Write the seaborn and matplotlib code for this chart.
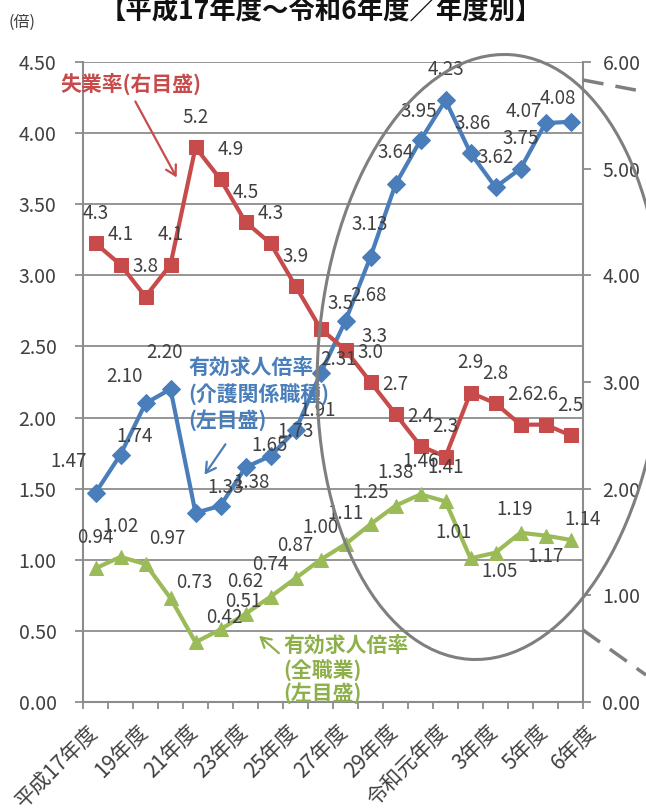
import matplotlib
matplotlib.use("Agg")
import matplotlib.pyplot as plt
import matplotlib.transforms as mtransforms
from matplotlib.patches import Ellipse, FancyArrowPatch
from matplotlib.lines import Line2D
import numpy as np
import pandas as pd
import seaborn as sns

# ---------------- data ----------------
years = ['平成17年度', '18年度', '19年度', '20年度', '21年度', '22年度', '23年度',
         '24年度', '25年度', '26年度', '27年度', '28年度', '29年度', '30年度',
         '令和元年度', '2年度', '3年度', '4年度', '5年度', '6年度']
care_ratio = [1.47, 1.74, 2.10, 2.20, 1.33, 1.38, 1.65, 1.73, 1.91, 2.31,
              2.68, 3.13, 3.64, 3.95, 4.23, 3.86, 3.62, 3.75, 4.07, 4.08]
all_ratio = [0.94, 1.02, 0.97, 0.73, 0.42, 0.51, 0.62, 0.74, 0.87, 1.00,
             1.11, 1.25, 1.38, 1.46, 1.41, 1.01, 1.05, 1.19, 1.17, 1.14]
unemployment = [4.3, 4.1, 3.8, 4.1, 5.2, 4.9, 4.5, 4.3, 3.9, 3.5,
                3.3, 3.0, 2.7, 2.4, 2.3, 2.9, 2.8, 2.6, 2.6, 2.5]
shown_labels = ['平成17年度', '19年度', '21年度', '23年度', '25年度', '27年度',
                '29年度', '令和元年度', '3年度', '5年度', '6年度']
left_ticks = [0.0, 0.5, 1.0, 1.5, 2.0, 2.5, 3.0, 3.5, 4.0, 4.5]
right_ticks = [0.0, 1.0, 2.0, 3.0, 4.0, 5.0, 6.0]

# label offsets in pixels (dx right, dy down) – layout only
care_off = [(-27, -31), (14, -18), (-21, -27), (-6, -37), (30, -25), (31, -23),
            (24, -22), (25, -24), (22, -20), (18, -14), (23, -25), (-1, -32),
            (0, -32), (-2, -29), (0, -31), (2, -30), (0, -30), (0, -30),
            (-22, -12), (-13, -23)]
all_off = [(0, -31), (0, -30), (22, -26), (24, -16), (29, -25), (23, -28),
           (0, -32), (0, -32), (0, -33), (0, -32), (0, -31), (0, -32),
           (0, -33), (0, -33), (0, -34), (-17, -26), (4, 19), (-6, -23),
           (0, 21), (12, -20)]
unemp_off = [(0, -30)] * 5 + [(10, -30), (0, -29), (0, -30), (0, -30),
                              (20, -25), (29, -14)] + [(0, -30)] * 9

df = pd.DataFrame({'idx': np.arange(len(years)), 'year': years,
                   'care': care_ratio, 'all': all_ratio, 'unemp': unemployment})

BLUE = '#4A7EBB'
RED = '#C84B4B'
GREEN = '#9BBB59'
GREEN_TXT = '#8DB04A'
GRAY = '#8C8C8C'
TXT = '#404040'

sns.set_theme(style='white')
plt.rcParams['font.family'] = ['Noto Sans CJK JP', 'DejaVu Sans']

W, H = 646, 808
fig = plt.figure(figsize=(W / 100, H / 100), dpi=100)
L, R, T, B = 83, 583, 62, 702
ax = fig.add_axes([L / W, 1 - B / H, (R - L) / W, (B - T) / H])
ax2 = ax.twinx()

sns.lineplot(data=df, x='idx', y='care', ax=ax, color=BLUE, marker='D',
             markersize=9, linewidth=3, markeredgecolor=BLUE, zorder=3)
sns.lineplot(data=df, x='idx', y='all', ax=ax, color=GREEN, marker='^',
             markersize=10, linewidth=3, markeredgecolor=GREEN, zorder=3)
sns.lineplot(data=df, x='idx', y='unemp', ax=ax2, color=RED, marker='s',
             markersize=10, linewidth=3, markeredgecolor=RED, zorder=3)

for a in (ax, ax2):
    a.set_xlabel('')
    a.set_ylabel('')
    a.set_xlim(-0.5, len(years) - 0.5)
    a.set_facecolor('none')
ax.set_ylim(0, 4.5)
ax2.set_ylim(0, 6)

ax.set_yticks(left_ticks)
ax.set_yticklabels([f'{v:.2f}' for v in left_ticks])
ax2.set_yticks(right_ticks)
ax2.set_yticklabels([f'{v:.2f}' for v in right_ticks])
ax.yaxis.grid(True, color=GRAY, linewidth=1.3)
ax.xaxis.grid(False)
ax2.grid(False)

pos = [years.index(s) for s in shown_labels]
ax.set_xticks(pos)
ax.set_xticklabels(shown_labels, rotation=45, ha='right', va='center',
                   rotation_mode='anchor', fontsize=15, color=TXT)
ax.set_xticks(np.arange(-0.5, len(years)), minor=True)
ax.tick_params(axis='x', which='major', length=0, pad=19)
ax.tick_params(axis='x', which='minor', length=5, width=1.3, color=GRAY,
               direction='out', bottom=True)
labs = ax.get_xticklabels()
for k, lab in enumerate(labs):
    dx = 22 if k == len(labs) - 1 else -1
    lab.set_transform(lab.get_transform() +
                      mtransforms.ScaledTranslation(dx / 100, 0, fig.dpi_scale_trans))

ax.tick_params(axis='y', which='major', length=6, width=1.3, color=GRAY,
               pad=13, labelsize=14, labelcolor=TXT, left=True)
ax2.tick_params(axis='y', which='major', length=6, width=1.3, color=GRAY,
                pad=8, labelsize=14, labelcolor=TXT, right=True)

for s in ('top', 'right'):
    ax.spines[s].set_visible(False)
for s in ('top', 'left', 'bottom'):
    ax2.spines[s].set_visible(False)
for sp in (ax.spines['left'], ax.spines['bottom'], ax2.spines['right']):
    sp.set_color(GRAY)
    sp.set_linewidth(1.5)

# data labels
for i in range(len(years)):
    dx, dy = care_off[i]
    ax2.annotate(f'{care_ratio[i]:.2f}', xy=(i, care_ratio[i]), xycoords=ax.transData,
                 xytext=(dx, -dy), textcoords='offset pixels', ha='center',
                 va='center', fontsize=13.5, color=TXT, zorder=5)
    dx, dy = all_off[i]
    ax2.annotate(f'{all_ratio[i]:.2f}', xy=(i, all_ratio[i]), xycoords=ax.transData,
                 xytext=(dx, -dy), textcoords='offset pixels', ha='center',
                 va='center', fontsize=13.5, color=TXT, zorder=5)
    dx, dy = unemp_off[i]
    ax2.annotate(f'{unemployment[i]:.1f}', xy=(i, unemployment[i]),
                 xytext=(dx, -dy), textcoords='offset pixels', ha='center',
                 va='center', fontsize=13.5, color=TXT, zorder=5)

def fx(x):
    return x / W

def fy(y):
    return 1 - y / H

# titles and annotations
fig.text(fx(321), fy(12), '【平成17年度～令和6年度／年度別】', ha='center', va='center',
         fontsize=19, fontweight='bold', color='#111111')
fig.text(fx(8), fy(22), '(倍)', ha='left', va='center', fontsize=11.5, color=TXT)

fig.text(fx(60), fy(84), '失業率(右目盛)', ha='left', va='center', fontsize=15,
         fontweight='bold', color=RED)
for txt, y in zip(['有効求人倍率', '(介護関係職種)', '(左目盛)'], [367, 394, 420]):
    fig.text(fx(188), fy(y), txt, ha='left', va='center', fontsize=15,
             fontweight='bold', color=BLUE)
for txt, y in zip(['有効求人倍率', '(全職業)', '(左目盛)'], [645, 670, 693]):
    fig.text(fx(283), fy(y), txt, ha='left', va='center', fontsize=15,
             fontweight='bold', color=GREEN_TXT)

def arrow(x0, y0, x1, y1, color):
    fig.add_artist(FancyArrowPatch(
        (fx(x0), fy(y0)), (fx(x1), fy(y1)), transform=fig.transFigure,
        arrowstyle='->,head_length=7,head_width=4', color=color, lw=1.6,
        mutation_scale=1))

arrow(134, 99, 178, 180, RED)
arrow(227, 442, 203, 477, BLUE)
arrow(281, 655, 257, 634, GREEN_TXT)

# highlight ellipse and leader lines
fig.add_artist(Ellipse((490 / 100, (H - 357) / 100), 3.44, 6.06, angle=-4,
                       transform=fig.dpi_scale_trans, fill=False,
                       edgecolor='#7F7F7F', linewidth=2.2, zorder=6))
fig.add_artist(Line2D([fx(583), fx(646)], [fy(80), fy(92)], transform=fig.transFigure,
                      color='#7F7F7F', lw=2.5, ls=(0, (6, 3.5)), zorder=6))
fig.add_artist(Line2D([fx(583), fx(646)], [fy(630), fy(675)], transform=fig.transFigure,
                      color='#7F7F7F', lw=2.5, ls=(0, (6, 3.5)), zorder=6))

fig.savefig('out.png', dpi=100)
